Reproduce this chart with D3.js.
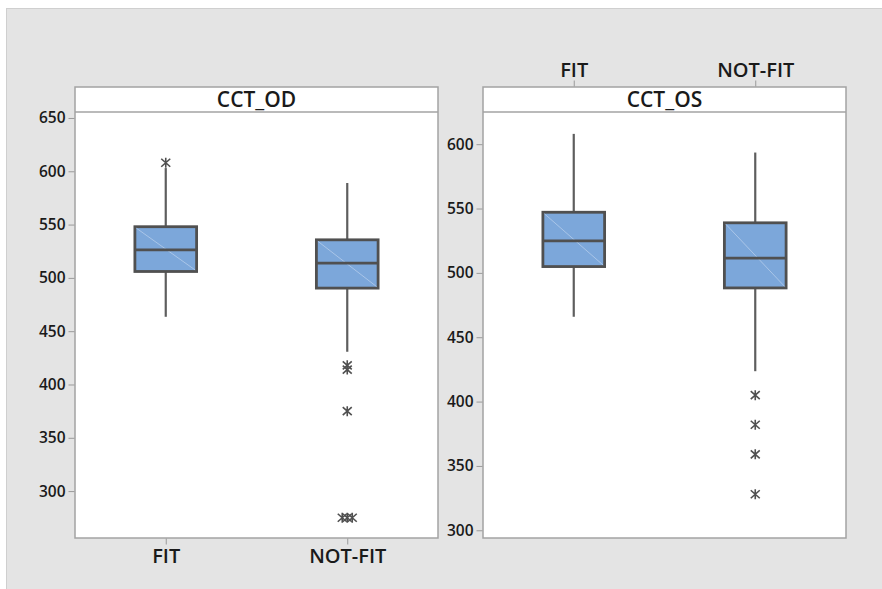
<!DOCTYPE html>
<html>
<head>
<meta charset="utf-8">
<script src="https://cdn.jsdelivr.net/npm/d3@7"></script>
<style>
  html, body { margin: 0; padding: 0; background: #ffffff; }
  svg { display: block; }
  text { font-family: "Open Sans", "Noto Sans", sans-serif; font-weight: 600; fill: #1a1a1a; }
</style>
</head>
<body>
<svg id="chart" width="882" height="589"></svg>
<script>
// ---------- DATA ----------
const categories = ["FIT", "NOT-FIT"];
const panelTitles = ["CCT_OD", "CCT_OS"];

// CCT_OD summaries [FIT, NOT-FIT]
const odWhiskerLow  = [463.5, 430.7];
const odQ1          = [506.0, 490.4];
const odMedian      = [526.3, 513.8];
const odQ3          = [548.0, 535.7];
const odWhiskerHigh = [603.0, 589.0];
const odOutliers    = [[608], [418, 414, 375, 275, 275, 275]];
const odTicks       = [300, 350, 400, 450, 500, 550, 600, 650];

// CCT_OS summaries [FIT, NOT-FIT]
const osWhiskerLow  = [465.9, 423.6];
const osQ1          = [504.9, 488.3];
const osMedian      = [524.9, 511.4];
const osQ3          = [547.1, 538.9];
const osWhiskerHigh = [608.0, 593.5];
const osOutliers    = [[], [405, 382, 359, 328]];
const osTicks       = [300, 350, 400, 450, 500, 550, 600];

// ---------- BUILD ----------
function build(lo, q1, med, q3, hi, outs) {
  return categories.map((c, i) => ({ cat: c, lo: lo[i], q1: q1[i], med: med[i], q3: q3[i], hi: hi[i], outs: outs[i] }));
}
const panels = [
  { title: panelTitles[0], data: build(odWhiskerLow, odQ1, odMedian, odQ3, odWhiskerHigh, odOutliers),
    domain: [256, 655.6], ticks: odTicks, x0: 75, xAxis: "bottom" },
  { title: panelTitles[1], data: build(osWhiskerLow, osQ1, osMedian, osQ3, osWhiskerHigh, osOutliers),
    domain: [294, 625], ticks: osTicks, x0: 483, xAxis: "top" }
];

const svg = d3.select("#chart");
// outer background
svg.append("rect").attr("x", 6.5).attr("y", 8.5).attr("width", 882).attr("height", 600)
  .attr("fill", "#e4e4e4").attr("stroke", "#cfcfcf").attr("stroke-width", 1);

const panelW = 363, headerTop = 87, headerBot = 112, plotBot = 538;
const frameColor = "#a3a3a3";

function styleTicks(sel, size) {
  sel.select(".domain").remove();
  sel.selectAll(".tick line").attr("stroke", "#9a9a9a");
  sel.selectAll(".tick text").style("font-size", size).style("font-family", "'Open Sans', sans-serif")
    .style("font-weight", "600").attr("fill", "#1a1a1a");
}

panels.forEach(p => {
  const g = svg.append("g");
  const x = d3.scalePoint().domain(categories).range([p.x0, p.x0 + panelW]).padding(0.5);
  const y = d3.scaleLinear().domain(p.domain).range([plotBot, headerBot]);
  const boxW = x.step() * 0.34;

  // frame
  g.append("rect").attr("x", p.x0).attr("y", headerTop).attr("width", panelW).attr("height", plotBot - headerTop)
    .attr("fill", "#ffffff").attr("stroke", frameColor).attr("stroke-width", 1.5);
  g.append("line").attr("x1", p.x0).attr("x2", p.x0 + panelW).attr("y1", headerBot).attr("y2", headerBot)
    .attr("stroke", frameColor).attr("stroke-width", 1.5);
  g.append("text").attr("x", p.x0 + panelW / 2).attr("y", (headerTop + headerBot) / 2 + 7.5)
    .attr("text-anchor", "middle").style("font-size", "21px").text(p.title);

  // y axis
  const ya = g.append("g").attr("transform", `translate(${p.x0 - 0.5},0)`)
    .call(d3.axisLeft(y).tickValues(p.ticks).tickSize(6).tickPadding(3));
  styleTicks(ya, "15.5px");

  // x axis
  if (p.xAxis === "bottom") {
    const xa = g.append("g").attr("transform", `translate(0,${plotBot + 0.5})`)
      .call(d3.axisBottom(x).tickSize(6).tickPadding(4));
    styleTicks(xa, "20px");
  } else {
    const xa = g.append("g").attr("transform", `translate(0,${headerTop - 0.5})`)
      .call(d3.axisTop(x).tickSize(6).tickPadding(4));
    styleTicks(xa, "20px");
  }

  const boxes = g.selectAll(".box").data(p.data).join("g").attr("class", "box");
  // whiskers
  boxes.append("line").attr("x1", d => x(d.cat)).attr("x2", d => x(d.cat))
    .attr("y1", d => y(d.q3)).attr("y2", d => y(d.hi)).attr("stroke", "#5e5e5e").attr("stroke-width", 2.2);
  boxes.append("line").attr("x1", d => x(d.cat)).attr("x2", d => x(d.cat))
    .attr("y1", d => y(d.q1)).attr("y2", d => y(d.lo)).attr("stroke", "#5e5e5e").attr("stroke-width", 2.2);
  // box
  boxes.append("rect").attr("x", d => x(d.cat) - boxW / 2).attr("width", boxW)
    .attr("y", d => y(d.q3)).attr("height", d => y(d.q1) - y(d.q3))
    .attr("fill", "#7ca7da").attr("stroke", "#505050").attr("stroke-width", 2.8);
  // diagonal artefact
  boxes.append("line").attr("x1", d => x(d.cat) - boxW / 2 + 1.5).attr("y1", d => y(d.q3) + 1.5)
    .attr("x2", d => x(d.cat) + boxW / 2 - 1.5).attr("y2", d => y(d.q1) - 1.5)
    .attr("stroke", "#b5cdeb").attr("stroke-width", 0.8);
  // median
  boxes.append("line").attr("x1", d => x(d.cat) - boxW / 2).attr("x2", d => x(d.cat) + boxW / 2)
    .attr("y1", d => y(d.med)).attr("y2", d => y(d.med)).attr("stroke", "#505050").attr("stroke-width", 2.8);

  // outliers (tied values dodged sideways)
  const star = "M-4.5,-4L4.5,4M-4.5,4L4.5,-4M0,-5L0,5";
  p.data.forEach(d => {
    const counts = d3.rollup(d.outs, v => v.length, v => v);
    const seen = new Map();
    d.outs.forEach(v => {
      const n = counts.get(v);
      const k = seen.get(v) || 0;
      seen.set(v, k + 1);
      const dx = (k - (n - 1) / 2) * 5;
      g.append("path").attr("d", star)
        .attr("transform", `translate(${x(d.cat) + dx},${y(v)})`)
        .attr("stroke", "#505050").attr("stroke-width", 1.6).attr("fill", "none");
    });
  });
});
</script>
</body>
</html>
